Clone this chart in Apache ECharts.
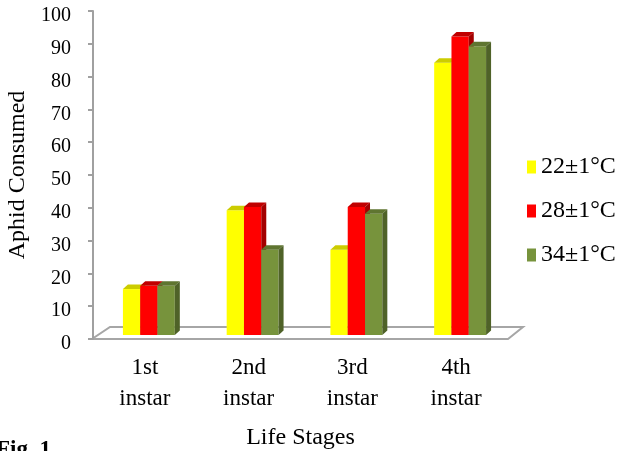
<!DOCTYPE html>
<html>
<head>
<meta charset="utf-8">
<script src="https://cdn.jsdelivr.net/npm/echarts@6/dist/echarts.min.js"></script>
<style>
  html, body { margin: 0; padding: 0; background: #fff; }
  #chart { width: 623px; height: 451px; }
</style>
</head>
<body>
<div id="chart"></div>
<script>
const stages = ['1st\ninstar', '2nd\ninstar', '3rd\ninstar', '4th\ninstar'];
const temp22 = [14, 38, 26, 83];
const temp28 = [15, 39, 39, 91];
const temp34 = [15, 26, 37, 88];
const seriesNames = ['22±1°C', '28±1°C', '34±1°C'];
const yTicks = { min: 0, max: 100, interval: 10 };

const FONT = "'Liberation Serif', 'Times New Roman', serif";

// front, top, side colours of each 3d column
const palette = [
    { front: '#ffff00', top: '#cccc00', side: '#b3b300' },
    { front: '#ff0000', top: '#c00000', side: '#a30000' },
    { front: '#77933c', top: '#5f7530', side: '#4f6228' }
];

const barW = 17.3;   // width of one column
const depthX = 5;    // oblique depth of a column
const depthY = 4.5;
const shiftX = 4;    // columns sit a little behind the front plane
const shiftY = 4;

function makeRender(idx) {
    const c = palette[idx];
    return function (params, api) {
        const cat = api.value(0);
        const base = api.coord([cat, 0]);
        const top = api.coord([cat, api.value(1)]);
        const x0 = base[0] + shiftX - 1.5 * barW + idx * barW;
        const x1 = x0 + barW;
        const yb = base[1] - shiftY;
        const yt = top[1] - shiftY;
        return {
            type: 'group',
            children: [
                {
                    type: 'rect',
                    shape: { x: x0, y: yt, width: barW, height: yb - yt },
                    style: { fill: c.front }
                },
                {
                    type: 'polygon',
                    shape: { points: [[x0, yt], [x1, yt], [x1 + depthX, yt - depthY], [x0 + depthX, yt - depthY]] },
                    style: { fill: c.top }
                },
                {
                    type: 'polygon',
                    shape: { points: [[x1, yt], [x1 + depthX, yt - depthY], [x1 + depthX, yb - depthY], [x1, yb]] },
                    style: { fill: c.side }
                }
            ]
        };
    };
}

const allData = [temp22, temp28, temp34];

const chart = echarts.init(document.getElementById('chart'));

const option = {
    animation: false,
    grid: { left: 93, top: 11, width: 415, height: 328, outerBoundsMode: 'none' },
    legend: {
        orient: 'vertical',
        left: 527,
        top: 155,
        padding: 0,
        itemWidth: 9,
        itemHeight: 13,
        itemGap: 20,
        itemTextGap: 6,
        icon: 'rect',
        data: seriesNames,
        textStyle: { fontFamily: FONT, fontSize: 24, color: '#000', lineHeight: 23 }
    },
    xAxis: {
        type: 'category',
        data: stages,
        name: 'Life Stages',
        nameLocation: 'middle',
        nameGap: 87,
        nameTextStyle: { fontFamily: FONT, fontSize: 24, color: '#000' },
        axisLine: { show: false },
        axisTick: { show: false },
        axisLabel: { fontFamily: FONT, fontSize: 23, lineHeight: 31, color: '#000', margin: 13 },
        splitLine: { show: false }
    },
    yAxis: {
        type: 'value',
        min: yTicks.min,
        max: yTicks.max,
        interval: yTicks.interval,
        name: 'Aphid Consumed',
        nameLocation: 'middle',
        nameGap: 58,
        nameTextStyle: { fontFamily: FONT, fontSize: 24, color: '#000' },
        axisLine: { show: true, lineStyle: { color: '#a0a0a0', width: 2 } },
        axisTick: { show: true, length: 5, lineStyle: { color: '#a0a0a0', width: 2 } },
        // labels sit a few pixels below their ticks, as in the original
        axisLabel: { fontFamily: FONT, fontSize: 20, color: '#000', margin: 22, verticalAlign: 'top', lineHeight: 10 },
        splitLine: { show: false }
    },
    graphic: [
        {
            // floor of the 3d plot
            type: 'polygon',
            z: 0,
            shape: { points: [[92, 339], [508, 339], [523, 327], [110, 327]] },
            style: { fill: '#fff', stroke: '#a6a6a6', lineWidth: 2 }
        },
        {
            type: 'text',
            left: -4,
            top: 439,
            style: { text: 'Fig. 1', font: "bold 23px 'Liberation Serif', serif", fill: '#000' }
        }
    ],
    series: allData.map(function (vals, i) {
        return {
            name: seriesNames[i],
            type: 'custom',
            itemStyle: { color: palette[i].front },
            renderItem: makeRender(i),
            encode: { x: 0, y: 1 },
            data: vals.map(function (v, k) { return [k, v]; }),
            z: 2 + i
        };
    })
};

chart.setOption(option);
</script>
</body>
</html>
